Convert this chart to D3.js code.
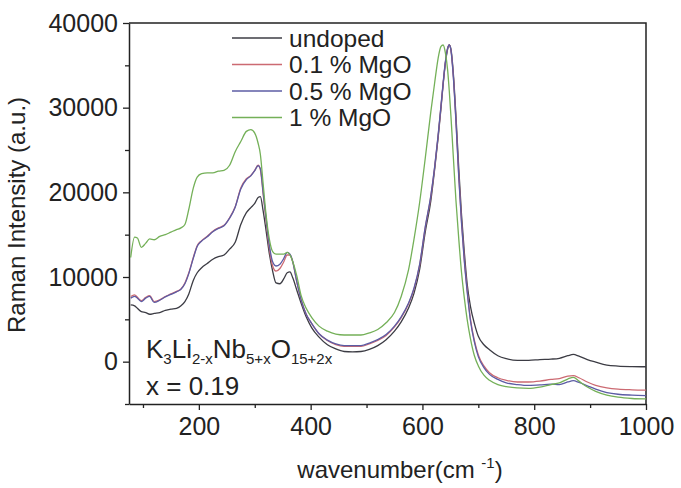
<!DOCTYPE html>
<html>
<head>
<meta charset="utf-8">
<script src="https://cdn.jsdelivr.net/npm/d3@7.8.5/dist/d3.min.js"></script>
<style>
  html, body { margin: 0; padding: 0; background: #fff; }
  svg text { font-family: "Liberation Sans", Arial, sans-serif; fill: #222; }
</style>
</head>
<body>
<svg id="chart" width="681" height="488"></svg>
<script>
// wavenumber grid (cm-1), shared by all series
const wavenumber = [78, 85, 90, 97, 105, 112, 120, 130, 140, 150, 160, 168, 175, 182, 190, 197, 205, 215, 225, 235,
  245, 255, 265, 275, 285, 293, 300, 306, 310, 315, 320, 326, 332, 338, 345, 352, 358, 363, 368, 375,
  383, 392, 402, 415, 430, 445, 460, 475, 490, 505, 520, 535, 550, 562, 575, 585, 595, 605, 615, 622,
  628, 633, 637, 641, 645, 648, 651, 655, 660, 665, 670, 675, 680, 686, 693, 700, 710, 720, 735, 750,
  770, 790, 810, 830, 845, 860, 870, 880, 895, 910, 930, 950, 975, 1000];

const undoped = [6700, 6600, 6300, 5900, 5800, 5600, 5700, 5800, 6050, 6200, 6300, 6600, 7100, 8000, 9600, 10500, 11100, 11600, 12100, 12400,
  12600, 13300, 14100, 16200, 17600, 18200, 18700, 19400, 19500, 17800, 15600, 12800, 10700, 9300, 9200, 9800, 10500, 10600, 9900, 8500,
  6900, 5300, 4000, 2900, 2000, 1500, 1200, 1150, 1200, 1450, 1900, 2600, 3600, 4700, 6300, 8100, 10900, 15300, 19000, 22800,
  26400, 29800, 32700, 35200, 36900, 37400, 36900, 34300, 29000, 22800, 17300, 12900, 9200, 6500, 4500, 3000, 2000, 1400, 700, 350,
  150, 150, 250, 300, 400, 700, 850, 650, 250, -50, -400, -520, -580, -600];

const mgo01 = [7700, 7900, 7600, 7200, 7600, 7800, 7100, 7300, 7700, 8000, 8300, 8600, 9300, 10500, 12300, 13700, 14300, 14800, 15400, 15800,
  16100, 17000, 18300, 20500, 21600, 22000, 22600, 23200, 22700, 19800, 16800, 13400, 11300, 10700, 11000, 11800, 12600, 12600, 11800, 9500,
  7300, 5600, 4500, 3300, 2500, 2000, 1800, 1800, 1800, 2100, 2500, 3100, 4100, 5200, 6800, 8600, 11400, 15800, 19500, 23000,
  26600, 30000, 32800, 35300, 37000, 37400, 36800, 34000, 28500, 22000, 16500, 12000, 8500, 5000, 2500, 800, -500, -1300, -1900, -2200,
  -2400, -2400, -2300, -2100, -2000, -1700, -1650, -1900, -2400, -2800, -3100, -3250, -3320, -3350];

const mgo05 = [7500, 7700, 7500, 7100, 7500, 7700, 7000, 7250, 7650, 7950, 8250, 8550, 9200, 10400, 12200, 13600, 14250, 14750, 15350, 15750,
  16050, 16950, 18250, 20400, 21500, 21950, 22550, 23150, 22800, 20000, 17100, 13800, 11800, 11300, 11500, 12200, 12900, 12700, 11800, 9500,
  7300, 5600, 4500, 3300, 2550, 2100, 1900, 1900, 1900, 2200, 2600, 3200, 4200, 5300, 6900, 8700, 11500, 15900, 19600, 23100,
  26700, 30100, 32900, 35400, 37000, 37400, 36800, 33900, 28300, 21800, 16300, 11800, 8300, 4800, 2300, 600, -700, -1500, -2100, -2500,
  -2700, -2800, -2750, -2650, -2700, -2400, -2250, -2450, -2850, -3250, -3650, -3850, -3950, -4000];

const mgo1 = [12300, 14700, 14600, 13500, 14000, 14500, 14400, 14800, 15000, 15300, 15600, 15800, 16200, 18000, 20500, 21800, 22200, 22300, 22300, 22500,
  22600, 23200, 24800, 26000, 27200, 27400, 27000, 25800, 24500, 21000, 17500, 14500, 13000, 12700, 12700, 12700, 12900, 12600, 11800, 10200,
  7800, 6300, 5200, 4200, 3600, 3250, 3150, 3150, 3150, 3400, 3800, 4600, 5800, 7700, 10800, 14500, 18800, 24000, 29500, 33000,
  35800, 37200, 37400, 36500, 34500, 32000, 29000, 24500, 19000, 14500, 10500, 7500, 5000, 2700, 700, -500, -1600, -2200, -2700, -2950,
  -3100, -3150, -3000, -2700, -2500, -2050, -1850, -2300, -3000, -3500, -3950, -4200, -4350, -4400];

const seriesNames = ['undoped', '0.1 % MgO', '0.5 % MgO', '1 % MgO'];
const seriesValues = [undoped, mgo01, mgo05, mgo1];
const seriesColors = ['#3c3c44', '#cc6a72', '#5c5ca4', '#74b058'];

const xMajorTicks = [200, 400, 600, 800, 1000];
const xMinorTicks = [100, 300, 500, 700, 900];
const yMajorTicks = [0, 10000, 20000, 30000, 40000];
const yMinorTicks = [-5000, 5000, 15000, 25000, 35000];

const svg = d3.select('#chart');
const plot = { left: 129, right: 646, top: 23, bottom: 404 };

const x = d3.scaleLinear().domain([75, 1000]).range([plot.left, plot.right]);
const y = d3.scaleLinear().domain([-5000, 40000]).range([plot.bottom, plot.top]);

// frame (top and right)
svg.append('path')
  .attr('d', `M${plot.left},${plot.top}H${plot.right}V${plot.bottom}`)
  .attr('fill', 'none')
  .attr('stroke', '#222')
  .attr('stroke-width', 1.5);

// minor ticks
svg.append('g')
  .attr('transform', `translate(0,${plot.bottom})`)
  .call(d3.axisBottom(x).tickValues(xMinorTicks).tickSize(4).tickFormat(''))
  .call(g => g.select('.domain').remove());
svg.append('g')
  .attr('transform', `translate(${plot.left},0)`)
  .call(d3.axisLeft(y).tickValues(yMinorTicks).tickSize(4).tickFormat(''))
  .call(g => g.select('.domain').remove());

// major axes
const xAxis = svg.append('g')
  .attr('transform', `translate(0,${plot.bottom})`)
  .call(d3.axisBottom(x).tickValues(xMajorTicks).tickSize(6).tickSizeOuter(0).tickPadding(7).tickFormat(d3.format('d')));
const yAxis = svg.append('g')
  .attr('transform', `translate(${plot.left},0)`)
  .call(d3.axisLeft(y).tickValues(yMajorTicks).tickSize(6).tickSizeOuter(0).tickPadding(5).tickFormat(d3.format('d')));

svg.selectAll('.tick line').attr('stroke', '#222').attr('stroke-width', 1.3);
svg.selectAll('.domain').attr('stroke', '#222').attr('stroke-width', 1.5);
[xAxis, yAxis].forEach(a => a.selectAll('text')
  .style('font-size', '25px')
  .style('font-family', '"Liberation Sans", Arial, sans-serif')
  .attr('fill', '#222'));

// curves
const line = d3.line()
  .x(d => x(d[0]))
  .y(d => y(d[1]))
  .curve(d3.curveMonotoneX);

svg.append('g')
  .selectAll('path')
  .data(seriesValues)
  .join('path')
  .attr('d', vals => line(wavenumber.map((w, i) => [w, vals[i]])))
  .attr('fill', 'none')
  .attr('stroke', (d, i) => seriesColors[i])
  .attr('stroke-width', 1.3);

// legend
const legend = svg.append('g').attr('transform', 'translate(232,38)');
const rows = legend.selectAll('g')
  .data(seriesNames)
  .join('g')
  .attr('transform', (d, i) => `translate(0,${i * 26.5})`);
rows.append('line')
  .attr('x1', 0).attr('x2', 50)
  .attr('stroke', (d, i) => seriesColors[i])
  .attr('stroke-width', 1.3);
rows.append('text')
  .attr('x', 57)
  .attr('dy', '0.35em')
  .style('font-size', '24.5px')
  .text(d => d);

// formula annotation
const formula = svg.append('text')
  .attr('x', 146)
  .attr('y', 358)
  .style('font-size', '26px');
const parts = [['K', false], ['3', true], ['Li', false], ['2-x', true], ['Nb', false], ['5+x', true], ['O', false], ['15+2x', true]];
let prevSub = false;
parts.forEach(([t, sub]) => {
  formula.append('tspan')
    .attr('dy', sub === prevSub ? 0 : (sub ? 6 : -6))
    .style('font-size', sub ? '15px' : '26px')
    .text(t);
  prevSub = sub;
});
svg.append('text')
  .attr('x', 146)
  .attr('y', 395)
  .style('font-size', '26px')
  .text('x = 0.19');

// axis titles
svg.append('text')
  .attr('transform', 'translate(25,215) rotate(-90)')
  .attr('text-anchor', 'middle')
  .style('font-size', '24px')
  .text('Raman Intensity (a.u.)');

const xTitle = svg.append('text')
  .attr('x', 400)
  .attr('y', 478)
  .attr('text-anchor', 'middle')
  .style('font-size', '24px');
xTitle.append('tspan').text('wavenumber(cm ');
xTitle.append('tspan').attr('dy', -10).style('font-size', '15px').text('-1');
xTitle.append('tspan').attr('dy', 10).text(')');
</script>
</body>
</html>
